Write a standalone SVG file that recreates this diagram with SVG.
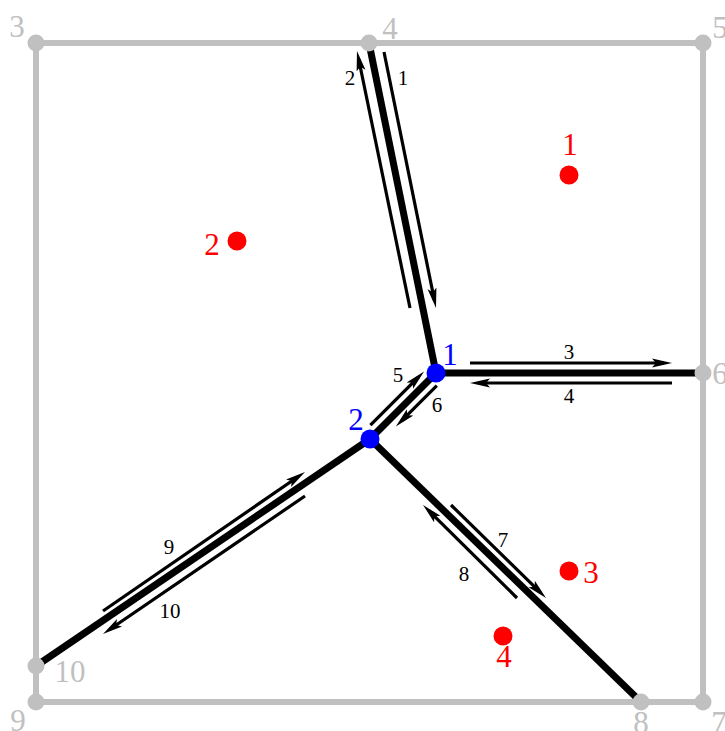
<svg xmlns="http://www.w3.org/2000/svg" width="725" height="731" viewBox="0 0 725 731">
<style>
.border{stroke:#c0c0c0;stroke-width:6;fill:none}
.edge{stroke:#000;stroke-width:7;fill:none}
.arr{stroke:#000;stroke-width:3.2;fill:none;marker-end:url(#ah)}
.gn{fill:#c0c0c0}
.bn{fill:#0000ff}
.rn{fill:#ff0000}
text{font-family:"Liberation Serif","Times New Roman",serif;text-anchor:middle}
.gl{fill:#c0c0c0;font-size:31px}
.bl{fill:#0000ff;font-size:31px}
.rl{fill:#ff0000;font-size:31px}
.el{fill:#000;font-size:21px}
</style>
<defs>
<marker id="ah" markerUnits="userSpaceOnUse" viewBox="0 0 20 10" markerWidth="20" markerHeight="10" refX="12" refY="5" orient="auto">
<path d="M0,0.5 L20,5 L0,9.5 L4,5 Z" fill="#000"/>
</marker>
</defs>
<g id="border">
<rect class="border" x="36" y="43" width="667" height="659"/>
</g>
<g id="connectors">
<line class="edge" x1="369" y1="43" x2="436" y2="373"/>
<line class="edge" x1="436" y1="373" x2="703" y2="373"/>
<line class="edge" x1="436" y1="373" x2="370" y2="439"/>
<line class="edge" x1="370" y1="439" x2="36" y2="666"/>
<line class="edge" x1="370" y1="439" x2="641" y2="702"/>
<line class="arr" x1="384" y1="52" x2="434.4" y2="300.2"/>
<line class="arr" x1="410" y1="308" x2="358.6" y2="58.8"/>
<line class="arr" x1="470" y1="363" x2="664" y2="363"/>
<line class="arr" x1="672" y1="383" x2="478" y2="383"/>
<line class="arr" x1="370.4" y1="425.2" x2="418.4" y2="377.2"/>
<line class="arr" x1="436.8" y1="385.6" x2="401.5" y2="420.9"/>
<line class="arr" x1="451" y1="505" x2="540.3" y2="592.4"/>
<line class="arr" x1="517" y1="598" x2="428.7" y2="510.6"/>
<line class="arr" x1="103" y1="611" x2="298.4" y2="476.5"/>
<line class="arr" x1="305" y1="496" x2="109.6" y2="629.5"/>
<text class="el" x="403" y="85">1</text>
<text class="el" x="350" y="85">2</text>
<text class="el" x="569" y="359">3</text>
<text class="el" x="569" y="403">4</text>
<text class="el" x="398" y="382">5</text>
<text class="el" x="437" y="412">6</text>
<text class="el" x="503" y="547">7</text>
<text class="el" x="464" y="581">8</text>
<text class="el" x="169" y="554">9</text>
<text class="el" x="170" y="618">10</text>
</g>
<g id="g3"><circle class="gn" cx="36" cy="43" r="8.5"/><text class="gl" x="17" y="37">3</text></g>
<g id="g4"><circle class="gn" cx="369" cy="43" r="8.5"/><text class="gl" x="390" y="39">4</text></g>
<g id="g5"><circle class="gn" cx="703" cy="43" r="8.5"/><text class="gl" x="720" y="38">5</text></g>
<g id="g6"><circle class="gn" cx="703" cy="373" r="8.5"/><text class="gl" x="720" y="384">6</text></g>
<g id="g7"><circle class="gn" cx="703" cy="702" r="8.5"/><text class="gl" x="719" y="733">7</text></g>
<g id="g8"><circle class="gn" cx="641" cy="702" r="8.5"/><text class="gl" x="641" y="733">8</text></g>
<g id="g9"><circle class="gn" cx="36" cy="702" r="8.5"/><text class="gl" x="18" y="731">9</text></g>
<g id="g10"><circle class="gn" cx="36" cy="666" r="8.5"/><text class="gl" x="70" y="682">10</text></g>
<g id="b1"><circle class="bn" cx="436" cy="373" r="9.5"/><text class="bl" x="450" y="365">1</text></g>
<g id="b2"><circle class="bn" cx="370" cy="439" r="9.5"/><text class="bl" x="356" y="430">2</text></g>
<g id="r1"><circle class="rn" cx="569" cy="175" r="9.5"/><text class="rl" x="570" y="155">1</text></g>
<g id="r2"><circle class="rn" cx="237" cy="241" r="9.5"/><text class="rl" x="212" y="255">2</text></g>
<g id="r3"><circle class="rn" cx="569" cy="571" r="9.5"/><text class="rl" x="591" y="583">3</text></g>
<g id="r4"><circle class="rn" cx="503" cy="636" r="9.5"/><text class="rl" x="504" y="667">4</text></g>
</svg>
